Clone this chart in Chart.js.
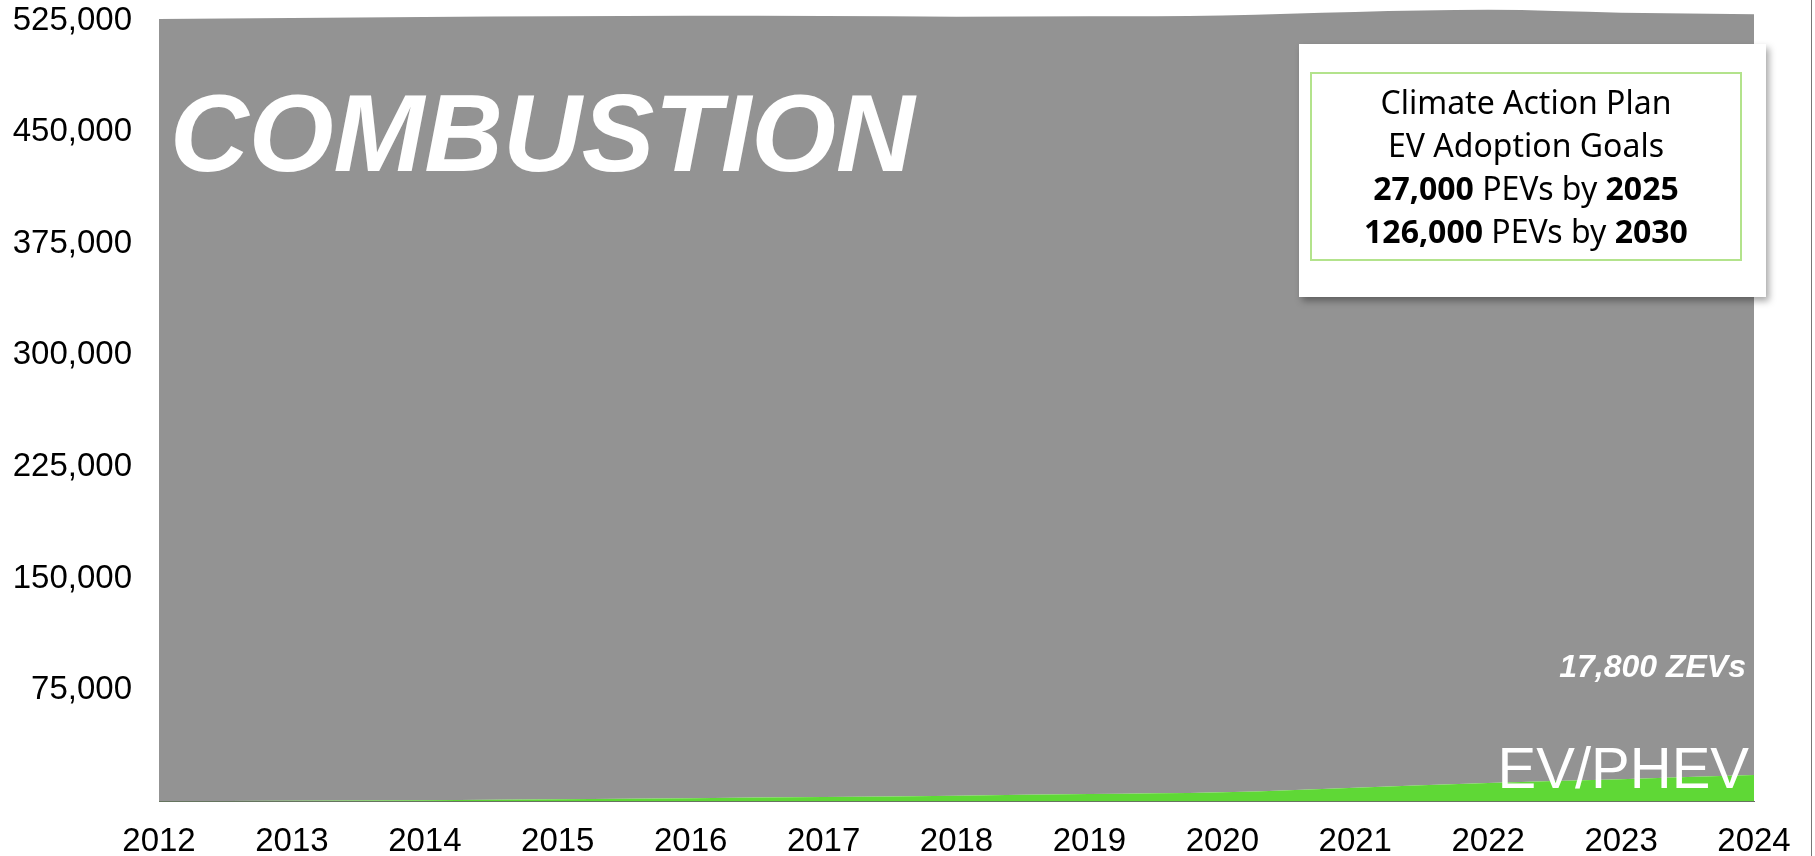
<!DOCTYPE html>
<html>
<head>
<meta charset="utf-8">
<script src="https://cdn.jsdelivr.net/npm/chart.js@4.4.1/dist/chart.umd.min.js"></script>
<style>
  html, body { margin: 0; padding: 0; background: #fff; overflow: hidden; }
  #wrap { position: relative; width: 1815px; height: 856px; }
  #goals {
    position: absolute; left: 1299px; top: 44px; width: 467px; height: 253px;
    background: #fff; box-shadow: 3px 4px 7px rgba(0,0,0,0.35);
  }
  #goals .inner {
    position: absolute; left: 11px; top: 28px; width: 428px; height: 179px;
    border: 2px solid #b3e38c; padding-top: 6px;
    font-family: "Noto Sans", sans-serif; font-size: 32px; line-height: 43px;
    text-align: center; color: #000;
  }
  #goals b { font-weight: 700; }
  #edge { position: absolute; left: 1811px; top: 0; width: 1px; height: 856px; background: #777; }
</style>
</head>
<body>
<div id="wrap">
  <canvas id="area_chart" width="1815" height="856"></canvas>
  <div id="goals">
    <div class="inner">
      Climate Action Plan<br>
      EV Adoption Goals<br>
      <b>27,000</b> PEVs by <b>2025</b><br>
      <b>126,000</b> PEVs by <b>2030</b>
    </div>
  </div>
  <div id="edge"></div>
</div>
<script>
// years on the x axis
var years = ['2012','2013','2014','2015','2016','2017','2018','2019','2020','2021','2022','2023','2024'];
// registered EV / PHEV
var evPhev = [300, 500, 900, 1500, 2200, 3000, 3900, 5000, 6200, 9300, 12500, 15000, 17800];
// combustion vehicles, stacked on top of the EVs
var combustion = [526000, 526400, 526600, 526500, 526200, 525200, 523900, 523000, 522400, 521700, 519900, 515500, 511700];
// y axis ticks (the picture is cut just above 525,000)
var yTicks = [75000, 150000, 225000, 300000, 375000, 450000, 525000];
var yMax = 539000;

var areaLabels = {
  id: 'areaLabels',
  afterDatasetsDraw: function(chart) {
    var ctx = chart.ctx, a = chart.chartArea;
    var xEnd = chart.scales.x.getPixelForValue(years.length - 1);
    ctx.save();
    ctx.fillStyle = '#fff';
    ctx.textBaseline = 'alphabetic';
    ctx.textAlign = 'left';
    ctx.font = 'italic bold 109px "Liberation Sans", Arial, sans-serif';
    ctx.fillText('COMBUSTION', a.left + 11, 171);
    ctx.textAlign = 'right';
    ctx.font = 'italic bold 32px "Liberation Sans", Arial, sans-serif';
    ctx.fillText('17,800 ZEVs', xEnd - 8, 677);
    ctx.font = '58px "Liberation Sans", Arial, sans-serif';
    ctx.fillText('EV/PHEV', xEnd - 5, 788);
    ctx.restore();
  }
};

new Chart(document.getElementById('area_chart'), {
  type: 'line',
  data: {
    labels: years,
    datasets: [
      {
        label: 'EV/PHEV',
        data: evPhev,
        fill: 'origin',
        backgroundColor: '#5fd836',
        borderColor: 'rgba(0,0,0,0)',
        borderWidth: 0,
        pointRadius: 0,
        cubicInterpolationMode: 'monotone'
      },
      {
        label: 'Combustion',
        data: combustion,
        fill: '-1',
        backgroundColor: '#939393',
        borderColor: 'rgba(0,0,0,0)',
        borderWidth: 0,
        pointRadius: 0,
        cubicInterpolationMode: 'monotone'
      }
    ]
  },
  options: {
    responsive: false,
    animation: false,
    layout: { padding: { left: 10, right: 61, top: 0, bottom: 0 } },
    plugins: { legend: { display: false }, tooltip: { enabled: false } },
    scales: {
      x: {
        offset: false,
        grid: { display: false, drawTicks: false },
        border: { display: true, color: '#666', width: 1 },
        ticks: {
          color: '#000', padding: 21, maxRotation: 0, autoSkip: false,
          font: { family: '"Liberation Sans", Arial, sans-serif', size: 33 }
        },
        afterFit: function(s) { s.height = 54.5; }
      },
      y: {
        stacked: true,
        min: 0, max: yMax,
        grid: { display: false, drawTicks: false },
        border: { display: false },
        ticks: {
          color: '#000', padding: 27, autoSkip: false,
          font: { family: '"Liberation Sans", Arial, sans-serif', size: 33 },
          callback: function(v) { return v.toLocaleString('en-US'); }
        },
        afterBuildTicks: function(s) {
          s.ticks = yTicks.map(function(v) { return { value: v }; });
        },
        afterFit: function(s) { s.width = 149; s.paddingTop = 0; s.paddingBottom = 0; }
      }
    }
  },
  plugins: [areaLabels]
});
</script>
</body>
</html>
